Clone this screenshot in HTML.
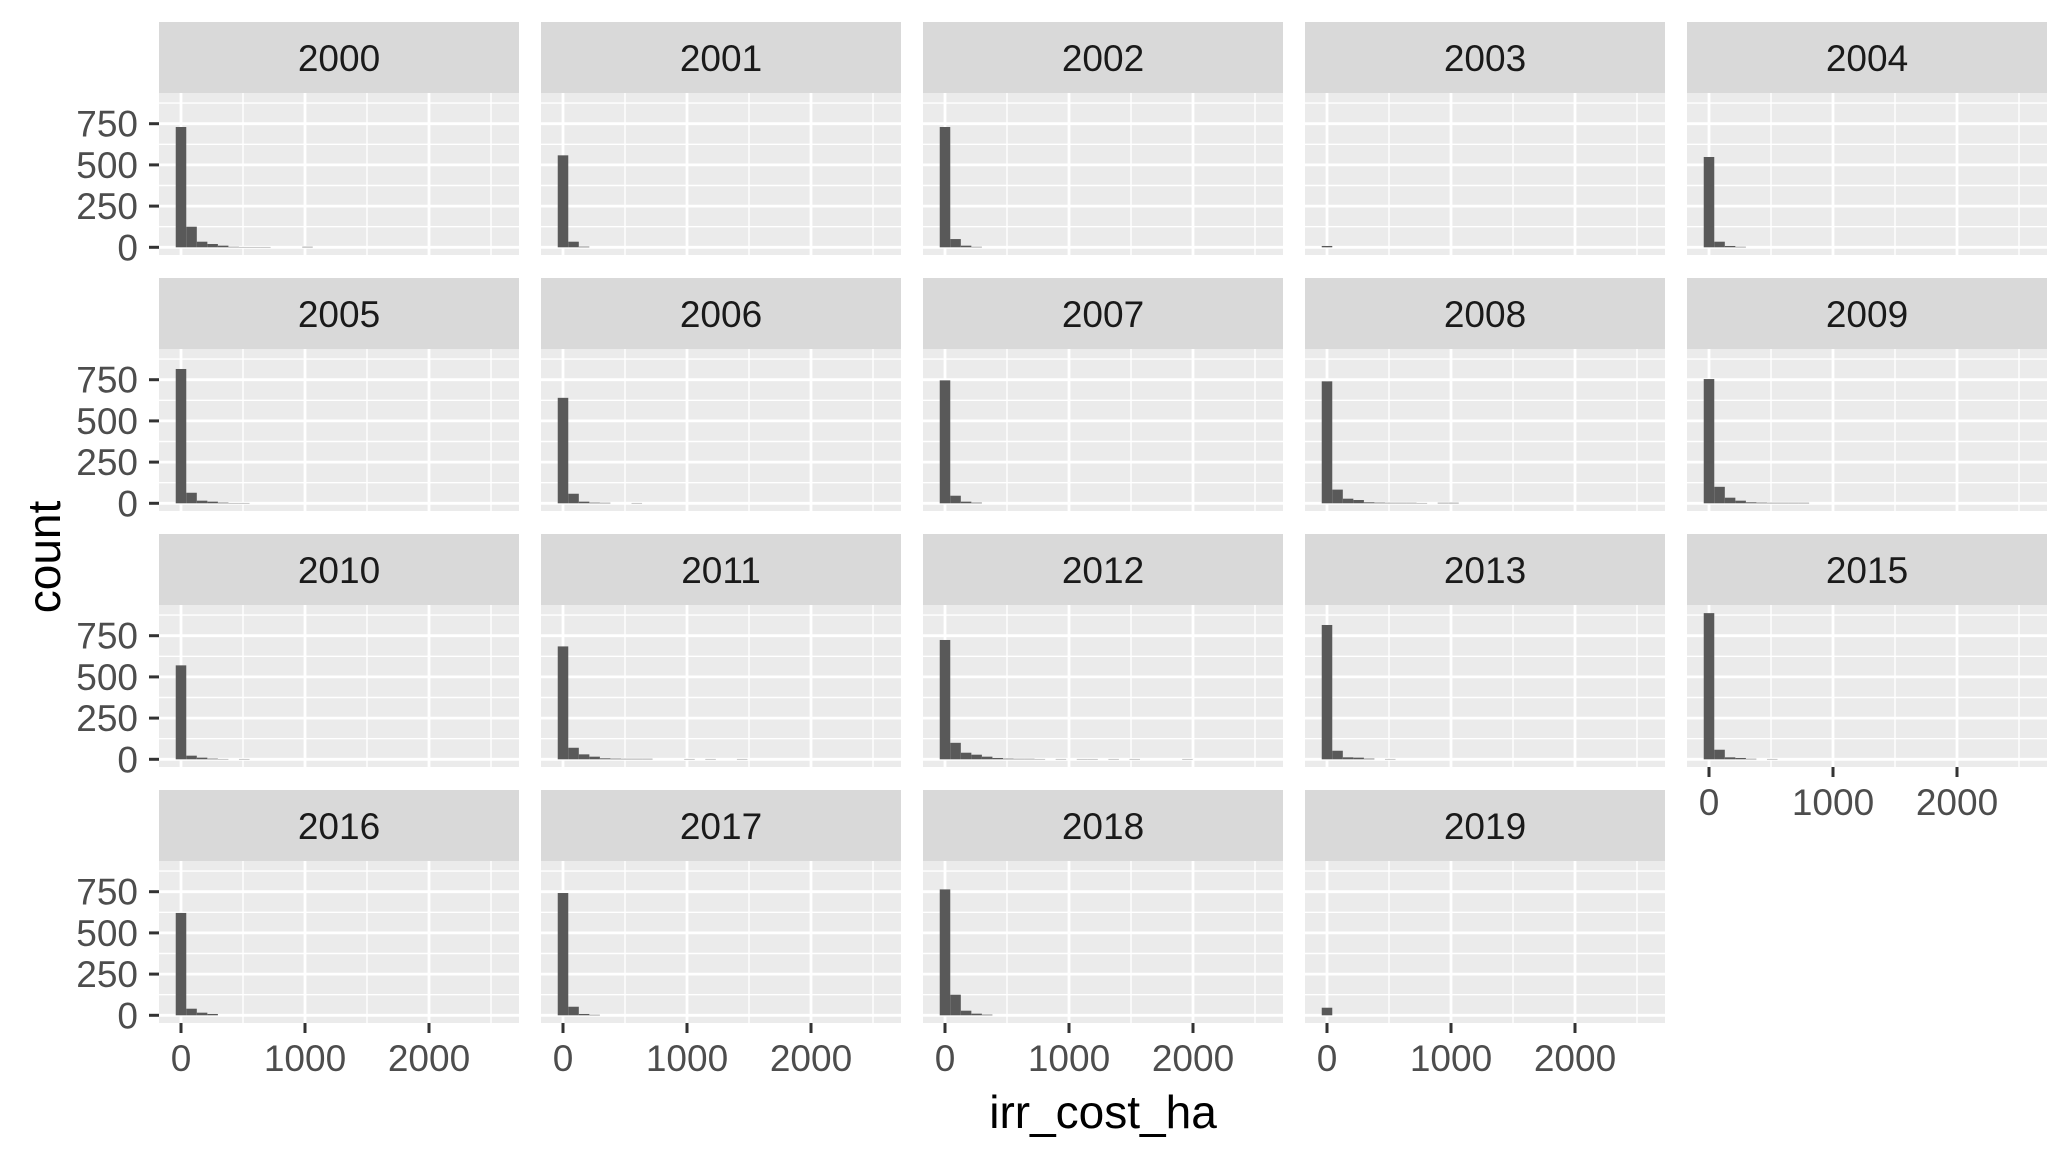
<!DOCTYPE html>
<html><head><meta charset="utf-8">
<style>
html,body{margin:0;padding:0;background:#fff;}
svg{display:block;font-family:"Liberation Sans",Arial,sans-serif;}
</style></head>
<body>
<svg id="chart" width="2068" height="1156" viewBox="0 0 2068 1156" xmlns="http://www.w3.org/2000/svg">
<rect width="2068" height="1156" fill="#ffffff"/>
<g id="panels"></g>
<text x="1103" y="1128" font-size="46" fill="#000" text-anchor="middle">irr_cost_ha</text>
<text x="0" y="0" font-size="46" fill="#000" text-anchor="middle" transform="translate(60,557) rotate(-90)">count</text>
</svg>
<script>
const years = ["2000","2001","2002","2003","2004","2005","2006","2007","2008","2009","2010","2011","2012","2013","2015","2016","2017","2018","2019"];
// bin counts per year (bin k centered at k*binWidth)
const counts2000 = [730,125,34,20,10,3,2,2,2,0,0,0,3];
const counts2001 = [558,34,4];
const counts2002 = [730,50,10,3];
const counts2003 = [8];
const counts2004 = [548,34,8,3];
const counts2005 = [815,64,16,10,4,2,2];
const counts2006 = [640,58,10,4,3,0,0,2];
const counts2007 = [746,46,10,4];
const counts2008 = [740,83,28,20,6,4,3,3,3,2,0,3,3];
const counts2009 = [754,100,34,16,6,4,3,3,3,3];
const counts2010 = [570,22,10,4,2,0,2];
const counts2011 = [685,70,30,16,6,4,3,3,3,0,0,0,2,0,2,0,0,2];
const counts2012 = [724,100,40,28,16,8,4,3,3,2,0,2,0,2,2,0,2,0,2,0,0,0,0,2];
const counts2013 = [815,52,12,10,4,0,2];
const counts2015 = [887,58,12,8,3,0,2];
const counts2016 = [621,40,16,8];
const counts2017 = [742,52,8,3];
const counts2018 = [764,125,28,10,4];
const counts2019 = [46];
const allCounts = [counts2000,counts2001,counts2002,counts2003,counts2004,counts2005,counts2006,counts2007,counts2008,counts2009,counts2010,counts2011,counts2012,counts2013,counts2015,counts2016,counts2017,counts2018,counts2019];
const binWidth = 85;
const yTicks = [0,250,500,750];
const yMinor = [125,375,625,875];
const xTicks = [0,1000,2000];
const xMinor = [500,1500,2500];

const NS = "http://www.w3.org/2000/svg";
const root = document.getElementById("panels");
const PW = 360, PH = 162, SH = 71, LEFT0 = 159, STEP_X = 382, TOP0 = 22, STEP_Y = 256;
function xs(v){ return 22 + v*0.124; }
function ys(v){ return 154.3 - v*0.1648; }
function mk(tag, attrs, parent){
  const e = document.createElementNS(NS, tag);
  for (const k in attrs) e.setAttribute(k, attrs[k]);
  parent.appendChild(e);
  return e;
}
years.forEach((yr, i) => {
  const col = i % 5, row = Math.floor(i / 5);
  const x0 = LEFT0 + col*STEP_X, sy = TOP0 + row*STEP_Y, py = sy + SH;
  const g = mk("g", {transform:`translate(${x0},0)`}, root);
  
  
  const strip = mk("rect", {x:0, y:sy, width:PW, height:SH, fill:"#d9d9d9"}, g);
  
  
  const st = mk("text", {x:PW/2, y:sy+49, "font-size":37, fill:"#1a1a1a", "text-anchor":"middle"}, g);
  st.textContent = yr;
  
  
  const bg = mk("rect", {x:0, y:py, width:PW, height:PH, fill:"#ebebeb"}, g);
  
  
  yMinor.forEach(v => { const l = mk("line", {x1:0, x2:PW, y1:py+ys(v), y2:py+ys(v), stroke:"#fff", "stroke-width":1.4}, g);   });
  xMinor.forEach(v => { const l = mk("line", {x1:xs(v), x2:xs(v), y1:py, y2:py+PH, stroke:"#fff", "stroke-width":1.4}, g);   });
  yTicks.forEach(v => { const l = mk("line", {x1:0, x2:PW, y1:py+ys(v), y2:py+ys(v), stroke:"#fff", "stroke-width":2.8}, g);   });
  xTicks.forEach(v => { const l = mk("line", {x1:xs(v), x2:xs(v), y1:py, y2:py+PH, stroke:"#fff", "stroke-width":2.8}, g);   });
  allCounts[i].forEach((c, k) => {
    if (c <= 0) return;
    const xa = xs(k*binWidth - binWidth/2), xb = xs(k*binWidth + binWidth/2);
    const b = mk("rect", {x:xa, y:py+ys(c), width:xb-xa, height:ys(0)-ys(c), fill:"#595959"}, g);
    
    
  });
  if (col === 0) {
    yTicks.forEach(v => {
      const t = mk("line", {x1:-10, x2:0, y1:py+ys(v), y2:py+ys(v), stroke:"#333", "stroke-width":3}, g);
      
      
      const lb = mk("text", {x:-21, y:py+ys(v)+13, "font-size":37, fill:"#4d4d4d", "text-anchor":"end"}, g);
      lb.textContent = v;
      
      
    });
  }
  const hasX = (row === 3) || (i === 14);
  if (hasX) {
    xTicks.forEach(v => {
      const t = mk("line", {x1:xs(v), x2:xs(v), y1:py+PH, y2:py+PH+10, stroke:"#333", "stroke-width":3}, g);
      
      
      const lb = mk("text", {x:xs(v), y:py+PH+48, "font-size":37, fill:"#4d4d4d", "text-anchor":"middle"}, g);
      lb.textContent = v;
      
      
    });
  }
});
</script>
</body></html>
